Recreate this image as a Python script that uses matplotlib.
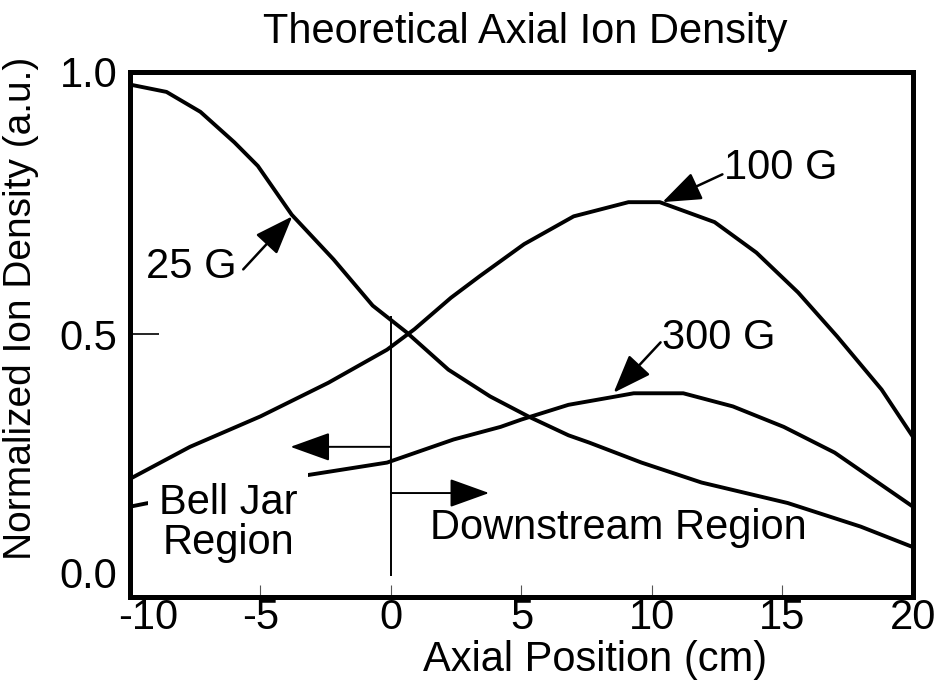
import matplotlib
matplotlib.use("Agg")
import matplotlib.pyplot as plt
import matplotlib.transforms as mtransforms

plt.rcParams["font.family"] = ["Liberation Sans", "DejaVu Sans"]

# Curves (axial position in cm, normalized density)
x_25g = [-10, -8.6, -7.3, -6.0, -5.1, -3.8, -2.2, -0.7, 0.6, 2.2, 3.8, 5.3, 6.8, 7.6, 9.6, 11.9, 15.2, 18.0, 20]
y_25g = [0.976, 0.962, 0.924, 0.866, 0.821, 0.728, 0.643, 0.555, 0.504, 0.433, 0.382, 0.343, 0.308, 0.294, 0.256, 0.218, 0.179, 0.134, 0.095]

x_100g = [-10, -7.7, -5.0, -2.4, -0.15, 0.9, 2.3, 3.4, 5.1, 7.0, 9.1, 10.3, 12.4, 14.0, 15.6, 17.1, 18.8, 20]
y_100g = [0.225, 0.286, 0.344, 0.408, 0.471, 0.51, 0.57, 0.611, 0.672, 0.725, 0.752, 0.752, 0.714, 0.656, 0.58, 0.496, 0.395, 0.305]

x_300g = [-10, -9.4, -3.6, -0.15, 2.4, 4.2, 5.0, 6.8, 8.4, 9.3, 11.2, 13.1, 15.05, 17.0, 20]
y_300g = [0.172, 0.178, 0.229, 0.256, 0.30, 0.324, 0.338, 0.366, 0.38, 0.388, 0.388, 0.363, 0.324, 0.275, 0.172]

x_ticks = [-10, -5, 0, 5, 10, 15, 20]
y_ticks = [0.0, 0.5, 1.0]

FS = 30

fig = plt.figure(figsize=(9.5, 6.9), dpi=100)
ax = fig.add_axes([0.1368, 0.1348, 0.8242, 0.7609])

for xs, ys in [(x_25g, y_25g), (x_100g, y_100g), (x_300g, y_300g)]:
    ax.plot(xs, ys, color="black", lw=2.8, solid_capstyle="butt", zorder=2)

ax.set_xlim(-10, 20)
ax.set_ylim(0, 1)

for s in ax.spines.values():
    s.set_linewidth(3.6)

ax.set_xticks(x_ticks)
ax.set_xticklabels([str(t) for t in x_ticks], fontsize=FS)
ax.set_yticks(y_ticks)
ax.set_yticklabels(["0.0", "0.5", "1.0"], fontsize=FS)
ax.tick_params(axis="x", direction="in", length=9, width=0.8, color="#555555", pad=1)
ax.tick_params(axis="y", direction="in", length=21, width=1.2, pad=9)
ax.get_yticklabels()[0].set_verticalalignment("bottom")
# first x label sits a bit to the right, clear of the "0.0"
first = ax.get_xticklabels()[0]
first.set_transform(first.get_transform() +
                    mtransforms.ScaledTranslation(0.18, 0, fig.dpi_scale_trans))

# divider at x = 0 and region arrows
ax.vlines(0, 0.04, 0.535, color="black", lw=1.4, zorder=2)
reg_arrow = dict(arrowstyle="-|>,head_length=1.25,head_width=0.45",
                 mutation_scale=20, color="black", lw=1.4, shrinkA=0, shrinkB=0)
ax.annotate("", xy=(-3.85, 0.286), xytext=(0, 0.286), arrowprops=reg_arrow)
ax.annotate("", xy=(3.76, 0.198), xytext=(0, 0.198), arrowprops=reg_arrow)

ax.text(-6.24, 0.141, "Bell Jar\nRegion", fontsize=FS, ha="center", va="center",
        linespacing=1.0, zorder=3,
        bbox=dict(boxstyle="square,pad=0.25", fc="white", ec="none"))
ax.text(8.7, 0.132, "Downstream Region", fontsize=FS, ha="center", va="center", zorder=3)

# curve labels
lab_arrow = dict(arrowstyle="-|>,head_length=1.2,head_width=0.45",
                 mutation_scale=20, color="black", lw=1.8, shrinkA=0, shrinkB=0)
ax.annotate("", xy=(-3.78, 0.725), xytext=(-5.66, 0.624), arrowprops=lab_arrow)
ax.text(-7.66, 0.628, "25 G", fontsize=FS, ha="center", va="center")
ax.annotate("", xy=(10.4, 0.752), xytext=(12.7, 0.805), arrowprops=lab_arrow)
ax.text(14.93, 0.817, "100 G", fontsize=FS, ha="center", va="center")
ax.annotate("", xy=(8.53, 0.389), xytext=(10.33, 0.485), arrowprops=lab_arrow)
ax.text(12.55, 0.494, "300 G", fontsize=FS, ha="center", va="center")

fig.text(0.553, 1 - 32 / 690, "Theoretical Axial Ion Density", fontsize=FS,
         ha="center", va="center")
fig.text(595 / 950, 1 - 660 / 690, "Axial Position (cm)", fontsize=FS,
         ha="center", va="center")
fig.text(21 / 950, 1 - 308 / 690, "Normalized Ion Density (a.u.)", fontsize=28,
         ha="center", va="center", rotation=90)

fig.savefig("out.png", dpi=100)
